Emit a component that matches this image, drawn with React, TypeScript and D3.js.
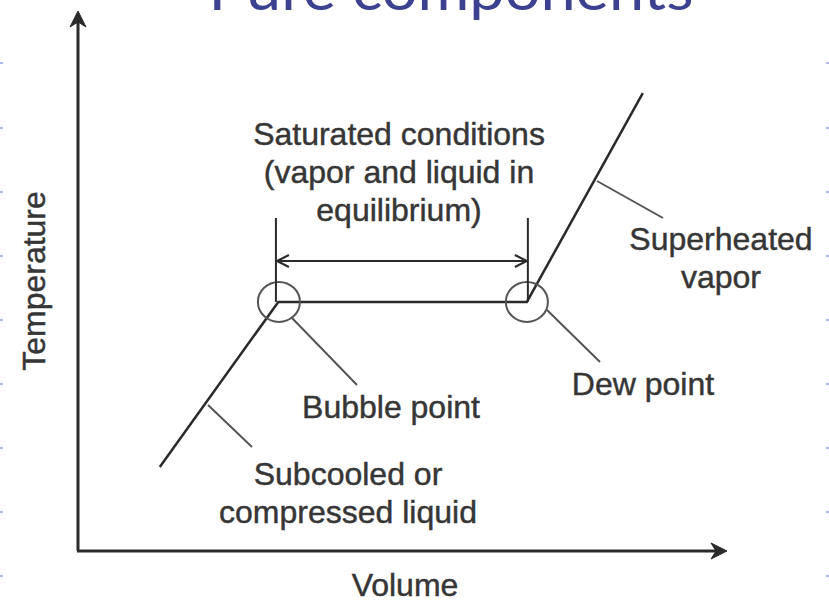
import React from "react";
import * as d3 from "d3";

// ---- data (volume / temperature in arbitrary 0-100 units) ----
const volume = [12.7, 31.1, 69.7, 87.7];
const temperature = [15.6, 46.3, 46.3, 85.1];

const bubblePoint = { v: 31.2, t: 46.3 };
const dewPoint = { v: 69.7, t: 46.3 };

const titleText = "Pure components";
const xAxisLabel = "Volume";
const yAxisLabel = "Temperature";
const saturatedLines = ["Saturated conditions", "(vapor and liquid in", "equilibrium)"];
const superheatedLines = ["Superheated", "vapor"];
const dewLines = ["Dew point"];
const bubbleLines = ["Bubble point"];
const subcooledLines = ["Subcooled or", "compressed liquid"];
const edgeTicks = [63, 128, 192, 256, 320, 384, 448, 512, 576];

const W = 829;
const H = 602;

export default function App() {
  const x = d3.scaleLinear().domain([0, 100]).range([78, 722]);
  const y = d3.scaleLinear().domain([0, 100]).range([551, 13]);

  const line = d3
    .line<number>()
    .x((_, i) => x(volume[i]))
    .y((d) => y(d));
  const curve = line(temperature) || "";

  const font = "'Liberation Sans', Arial, Helvetica, sans-serif";
  const textColor = "#363636";
  const fs = 32;
  const lh = 38;

  const bx = x(bubblePoint.v);
  const by = y(bubblePoint.t);
  const dx = x(dewPoint.v);
  const dy = y(dewPoint.t);

  const textProps = {
    fontSize: fs,
    fontFamily: font,
    fill: textColor,
    stroke: textColor,
    strokeWidth: 0.45,
    textAnchor: "middle" as const,
  };

  const multi = (lines: string[], cx: number, baseline: number) =>
    lines.map((t, i) => (
      <text key={i} x={cx} y={baseline + i * lh} {...textProps}>
        {t}
      </text>
    ));

  const arrowY = 261;
  const tickTop = 218;

  return (
    <svg width={W} height={H} style={{ position: "absolute", left: 0, top: 0, background: "#fff" }}>
      <rect width={W} height={H} fill="#fff" />
      {edgeTicks.map((t) => (
        <g key={t}>
          <rect x={0} y={t - 1} width={3} height={2} fill="#aebbee" />
          <rect x={W - 3} y={t - 1} width={3} height={2} fill="#aebbee" />
        </g>
      ))}
      {/* title */}
      <text
        x={451}
        y={10}
        textAnchor="middle"
        fontSize={58}
        fontFamily="Lato, 'Open Sans', sans-serif"
        fill="#3c4290"
        textLength={485}
        lengthAdjust="spacingAndGlyphs"
      >
        {titleText}
      </text>

      {/* axes */}
      <line x1={x(0)} y1={y(0)} x2={x(0)} y2={20} stroke="#2a2a2a" strokeWidth={3} />
      <line x1={x(0) - 1} y1={y(0)} x2={720} y2={y(0)} stroke="#2a2a2a" strokeWidth={3} />
      <path d={`M78,11 L70,27 L78,22 L86,27 Z`} fill="#2a2a2a" stroke="#2a2a2a" strokeWidth={1} strokeLinejoin="round" />
      <path d={`M727,${y(0)} L711,${y(0) - 8} L716,${y(0)} L711,${y(0) + 8} Z`} fill="#2a2a2a" stroke="#2a2a2a" strokeWidth={1} strokeLinejoin="round" />

      <text x={405} y={596} {...textProps}>
        {xAxisLabel}
      </text>
      <text transform={`translate(45,281) rotate(-90)`} {...textProps}>
        {yAxisLabel}
      </text>

      {/* main curve */}
      <path d={curve} fill="none" stroke="#2a2a2a" strokeWidth={2.5} strokeLinejoin="miter" />

      {/* circles */}
      <ellipse cx={bx} cy={by} rx={21} ry={20} fill="none" stroke="#555" strokeWidth={2} />
      <ellipse cx={dx} cy={dy} rx={21} ry={20} fill="none" stroke="#555" strokeWidth={2} />

      {/* dimension markers */}
      <line x1={bx - 3} y1={tickTop} x2={bx - 3} y2={by} stroke="#2a2a2a" strokeWidth={2} />
      <line x1={dx + 1} y1={tickTop} x2={dx + 1} y2={dy} stroke="#2a2a2a" strokeWidth={2} />
      <line x1={bx - 2} y1={arrowY} x2={dx} y2={arrowY} stroke="#2a2a2a" strokeWidth={2} />
      <path d={`M${bx + 10},${arrowY - 6} L${bx - 2},${arrowY} L${bx + 10},${arrowY + 6}`} fill="none" stroke="#2a2a2a" strokeWidth={2} />
      <path d={`M${dx - 12},${arrowY - 6} L${dx},${arrowY} L${dx - 12},${arrowY + 6}`} fill="none" stroke="#2a2a2a" strokeWidth={2} />

      {/* leader lines */}
      <line x1={208} y1={405} x2={252} y2={447} stroke="#555" strokeWidth={2} />
      <line x1={292} y1={318} x2={357} y2={385} stroke="#555" strokeWidth={2} />
      <line x1={547} y1={310} x2={600} y2={362} stroke="#555" strokeWidth={2} />
      <line x1={597} y1={181} x2={663} y2={218} stroke="#555" strokeWidth={2} />

      {/* labels */}
      {multi(saturatedLines, 399, 145)}
      {multi(superheatedLines, 721, 250)}
      {multi(dewLines, 643, 395)}
      {multi(bubbleLines, 391, 418)}
      {multi(subcooledLines, 348, 485)}
    </svg>
  );
}
